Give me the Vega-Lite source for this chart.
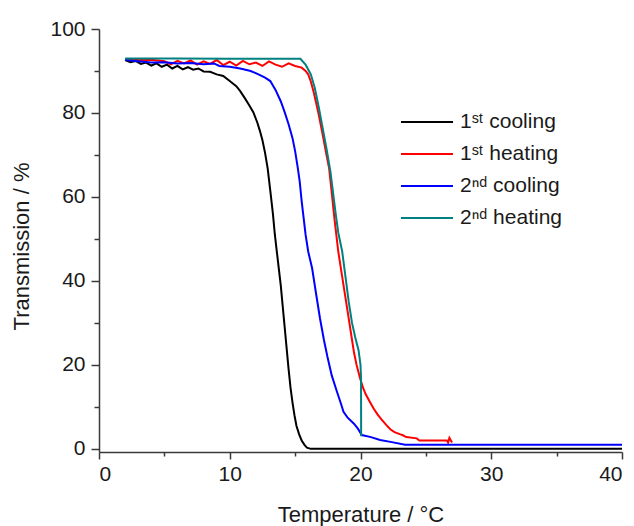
{
  "$schema": "https://vega.github.io/schema/vega-lite/v6.json",
  "width": 523,
  "height": 423,
  "autosize": {"type": "none"},
  "padding": {"left": 99, "top": 29, "right": 12, "bottom": 74},
  "background": "white",
  "config": {
    "view": {"stroke": null},
    "font": "Liberation Sans",
    "axis": {
      "grid": false,
      "domainColor": "#3a3a3a",
      "domainWidth": 1.5,
      "tickColor": "#3a3a3a",
      "tickWidth": 1.5,
      "labelFont": "Liberation Sans",
      "labelFontSize": 21,
      "labelColor": "#1a1a1a",
      "titleFont": "Liberation Sans",
      "titleFontWeight": "normal",
      "titleColor": "#1a1a1a",
      "titleFontSize": 22
    },
    "legend": {
      "labelFont": "Liberation Sans",
      "labelFontSize": 21,
      "labelColor": "#1a1a1a"
    }
  },
  "data": {
    "values": [
      {"series": "1ˢᵗ cooling", "t": 2.0, "tr": 92.6},
      {"series": "1ˢᵗ cooling", "t": 2.4, "tr": 92.1},
      {"series": "1ˢᵗ cooling", "t": 2.8, "tr": 92.4},
      {"series": "1ˢᵗ cooling", "t": 3.2, "tr": 91.7},
      {"series": "1ˢᵗ cooling", "t": 3.6, "tr": 92.0},
      {"series": "1ˢᵗ cooling", "t": 4.0, "tr": 91.3},
      {"series": "1ˢᵗ cooling", "t": 4.4, "tr": 91.8},
      {"series": "1ˢᵗ cooling", "t": 4.8, "tr": 91.0},
      {"series": "1ˢᵗ cooling", "t": 5.2, "tr": 91.5},
      {"series": "1ˢᵗ cooling", "t": 5.6, "tr": 90.6},
      {"series": "1ˢᵗ cooling", "t": 6.0, "tr": 91.2},
      {"series": "1ˢᵗ cooling", "t": 6.4, "tr": 90.4},
      {"series": "1ˢᵗ cooling", "t": 6.8, "tr": 90.9},
      {"series": "1ˢᵗ cooling", "t": 7.2, "tr": 90.3},
      {"series": "1ˢᵗ cooling", "t": 7.6, "tr": 90.6},
      {"series": "1ˢᵗ cooling", "t": 8.0, "tr": 89.9},
      {"series": "1ˢᵗ cooling", "t": 8.5, "tr": 89.8},
      {"series": "1ˢᵗ cooling", "t": 9.0, "tr": 89.2},
      {"series": "1ˢᵗ cooling", "t": 9.5, "tr": 88.8},
      {"series": "1ˢᵗ cooling", "t": 10.0, "tr": 87.6},
      {"series": "1ˢᵗ cooling", "t": 10.5, "tr": 86.4},
      {"series": "1ˢᵗ cooling", "t": 10.8, "tr": 85.2},
      {"series": "1ˢᵗ cooling", "t": 11.2, "tr": 83.3},
      {"series": "1ˢᵗ cooling", "t": 11.5, "tr": 81.8},
      {"series": "1ˢᵗ cooling", "t": 11.8, "tr": 80.2},
      {"series": "1ˢᵗ cooling", "t": 12.1, "tr": 77.8},
      {"series": "1ˢᵗ cooling", "t": 12.3, "tr": 75.8},
      {"series": "1ˢᵗ cooling", "t": 12.5, "tr": 73.5},
      {"series": "1ˢᵗ cooling", "t": 12.7, "tr": 70.5},
      {"series": "1ˢᵗ cooling", "t": 12.9, "tr": 66.8},
      {"series": "1ˢᵗ cooling", "t": 13.1, "tr": 61.5},
      {"series": "1ˢᵗ cooling", "t": 13.3, "tr": 56.0},
      {"series": "1ˢᵗ cooling", "t": 13.45, "tr": 51.0},
      {"series": "1ˢᵗ cooling", "t": 13.6, "tr": 47.0},
      {"series": "1ˢᵗ cooling", "t": 13.75, "tr": 43.0},
      {"series": "1ˢᵗ cooling", "t": 13.9, "tr": 39.0},
      {"series": "1ˢᵗ cooling", "t": 14.05, "tr": 34.0},
      {"series": "1ˢᵗ cooling", "t": 14.2, "tr": 29.0},
      {"series": "1ˢᵗ cooling", "t": 14.35, "tr": 24.0},
      {"series": "1ˢᵗ cooling", "t": 14.5, "tr": 19.0},
      {"series": "1ˢᵗ cooling", "t": 14.65, "tr": 14.5},
      {"series": "1ˢᵗ cooling", "t": 14.8, "tr": 11.0},
      {"series": "1ˢᵗ cooling", "t": 14.95, "tr": 8.0},
      {"series": "1ˢᵗ cooling", "t": 15.1, "tr": 5.5},
      {"series": "1ˢᵗ cooling", "t": 15.3, "tr": 3.5},
      {"series": "1ˢᵗ cooling", "t": 15.5, "tr": 2.0},
      {"series": "1ˢᵗ cooling", "t": 15.7, "tr": 1.0},
      {"series": "1ˢᵗ cooling", "t": 15.9, "tr": 0.3},
      {"series": "1ˢᵗ cooling", "t": 16.2, "tr": 0.0},
      {"series": "1ˢᵗ cooling", "t": 40.0, "tr": 0.0},

      {"series": "1ˢᵗ heating", "t": 2.0, "tr": 92.8},
      {"series": "1ˢᵗ heating", "t": 3.0, "tr": 92.6},
      {"series": "1ˢᵗ heating", "t": 4.0, "tr": 92.7},
      {"series": "1ˢᵗ heating", "t": 5.0, "tr": 92.3},
      {"series": "1ˢᵗ heating", "t": 5.5, "tr": 91.6},
      {"series": "1ˢᵗ heating", "t": 6.0, "tr": 92.4},
      {"series": "1ˢᵗ heating", "t": 6.5, "tr": 91.8},
      {"series": "1ˢᵗ heating", "t": 7.0, "tr": 92.5},
      {"series": "1ˢᵗ heating", "t": 7.5, "tr": 91.5},
      {"series": "1ˢᵗ heating", "t": 8.0, "tr": 92.3},
      {"series": "1ˢᵗ heating", "t": 8.5, "tr": 91.7},
      {"series": "1ˢᵗ heating", "t": 9.0, "tr": 92.6},
      {"series": "1ˢᵗ heating", "t": 9.5, "tr": 91.4},
      {"series": "1ˢᵗ heating", "t": 10.0, "tr": 92.2},
      {"series": "1ˢᵗ heating", "t": 10.5, "tr": 91.3},
      {"series": "1ˢᵗ heating", "t": 11.0, "tr": 92.4},
      {"series": "1ˢᵗ heating", "t": 11.5, "tr": 91.6},
      {"series": "1ˢᵗ heating", "t": 12.0, "tr": 92.0},
      {"series": "1ˢᵗ heating", "t": 12.5, "tr": 91.2},
      {"series": "1ˢᵗ heating", "t": 13.0, "tr": 92.3},
      {"series": "1ˢᵗ heating", "t": 13.5, "tr": 91.5},
      {"series": "1ˢᵗ heating", "t": 14.0, "tr": 91.0},
      {"series": "1ˢᵗ heating", "t": 14.5, "tr": 91.8},
      {"series": "1ˢᵗ heating", "t": 15.0, "tr": 91.2},
      {"series": "1ˢᵗ heating", "t": 15.5, "tr": 90.8},
      {"series": "1ˢᵗ heating", "t": 15.8, "tr": 90.0},
      {"series": "1ˢᵗ heating", "t": 16.0, "tr": 89.2},
      {"series": "1ˢᵗ heating", "t": 16.2, "tr": 87.5},
      {"series": "1ˢᵗ heating", "t": 16.4, "tr": 85.2},
      {"series": "1ˢᵗ heating", "t": 16.6, "tr": 82.5},
      {"series": "1ˢᵗ heating", "t": 16.8, "tr": 79.7},
      {"series": "1ˢᵗ heating", "t": 17.0, "tr": 76.5},
      {"series": "1ˢᵗ heating", "t": 17.2, "tr": 73.3},
      {"series": "1ˢᵗ heating", "t": 17.4, "tr": 70.0},
      {"series": "1ˢᵗ heating", "t": 17.6, "tr": 66.8},
      {"series": "1ˢᵗ heating", "t": 17.8, "tr": 61.0},
      {"series": "1ˢᵗ heating", "t": 18.0, "tr": 55.0},
      {"series": "1ˢᵗ heating", "t": 18.15, "tr": 51.0},
      {"series": "1ˢᵗ heating", "t": 18.3, "tr": 47.0},
      {"series": "1ˢᵗ heating", "t": 18.5, "tr": 43.0},
      {"series": "1ˢᵗ heating", "t": 18.7, "tr": 39.0},
      {"series": "1ˢᵗ heating", "t": 18.9, "tr": 35.0},
      {"series": "1ˢᵗ heating", "t": 19.1, "tr": 31.0},
      {"series": "1ˢᵗ heating", "t": 19.3, "tr": 27.0},
      {"series": "1ˢᵗ heating", "t": 19.5, "tr": 23.0},
      {"series": "1ˢᵗ heating", "t": 19.7, "tr": 20.0},
      {"series": "1ˢᵗ heating", "t": 19.95, "tr": 17.0},
      {"series": "1ˢᵗ heating", "t": 20.2, "tr": 14.5},
      {"series": "1ˢᵗ heating", "t": 20.4, "tr": 13.0},
      {"series": "1ˢᵗ heating", "t": 20.7, "tr": 11.3},
      {"series": "1ˢᵗ heating", "t": 21.0, "tr": 9.6},
      {"series": "1ˢᵗ heating", "t": 21.3, "tr": 8.2},
      {"series": "1ˢᵗ heating", "t": 21.6, "tr": 7.0},
      {"series": "1ˢᵗ heating", "t": 22.0, "tr": 5.6},
      {"series": "1ˢᵗ heating", "t": 22.3, "tr": 4.6},
      {"series": "1ˢᵗ heating", "t": 22.6, "tr": 4.0},
      {"series": "1ˢᵗ heating", "t": 23.0, "tr": 3.5},
      {"series": "1ˢᵗ heating", "t": 23.2, "tr": 3.3},
      {"series": "1ˢᵗ heating", "t": 23.5, "tr": 2.8},
      {"series": "1ˢᵗ heating", "t": 24.3, "tr": 2.5},
      {"series": "1ˢᵗ heating", "t": 24.5, "tr": 2.0},
      {"series": "1ˢᵗ heating", "t": 26.6, "tr": 2.0},
      {"series": "1ˢᵗ heating", "t": 26.7, "tr": 1.5},
      {"series": "1ˢᵗ heating", "t": 26.8, "tr": 2.6},
      {"series": "1ˢᵗ heating", "t": 27.0, "tr": 1.5},

      {"series": "2ⁿᵈ cooling", "t": 2.0, "tr": 92.6},
      {"series": "2ⁿᵈ cooling", "t": 3.0, "tr": 92.3},
      {"series": "2ⁿᵈ cooling", "t": 4.0, "tr": 92.0},
      {"series": "2ⁿᵈ cooling", "t": 5.0, "tr": 92.1},
      {"series": "2ⁿᵈ cooling", "t": 6.0, "tr": 91.8},
      {"series": "2ⁿᵈ cooling", "t": 7.0, "tr": 91.9},
      {"series": "2ⁿᵈ cooling", "t": 8.0, "tr": 91.6},
      {"series": "2ⁿᵈ cooling", "t": 8.8, "tr": 91.8},
      {"series": "2ⁿᵈ cooling", "t": 9.2, "tr": 91.2},
      {"series": "2ⁿᵈ cooling", "t": 10.0, "tr": 91.0},
      {"series": "2ⁿᵈ cooling", "t": 10.8, "tr": 90.6},
      {"series": "2ⁿᵈ cooling", "t": 11.6, "tr": 90.0},
      {"series": "2ⁿᵈ cooling", "t": 12.2, "tr": 89.2},
      {"series": "2ⁿᵈ cooling", "t": 12.7, "tr": 88.4},
      {"series": "2ⁿᵈ cooling", "t": 13.1, "tr": 87.6},
      {"series": "2ⁿᵈ cooling", "t": 13.5, "tr": 85.5},
      {"series": "2ⁿᵈ cooling", "t": 13.9, "tr": 82.8},
      {"series": "2ⁿᵈ cooling", "t": 14.2, "tr": 80.2},
      {"series": "2ⁿᵈ cooling", "t": 14.5, "tr": 77.3},
      {"series": "2ⁿᵈ cooling", "t": 14.8, "tr": 74.0},
      {"series": "2ⁿᵈ cooling", "t": 15.0, "tr": 70.9},
      {"series": "2ⁿᵈ cooling", "t": 15.2, "tr": 67.0},
      {"series": "2ⁿᵈ cooling", "t": 15.35, "tr": 63.7},
      {"series": "2ⁿᵈ cooling", "t": 15.5, "tr": 59.0},
      {"series": "2ⁿᵈ cooling", "t": 15.65, "tr": 55.0},
      {"series": "2ⁿᵈ cooling", "t": 15.8, "tr": 51.0},
      {"series": "2ⁿᵈ cooling", "t": 16.0, "tr": 47.0},
      {"series": "2ⁿᵈ cooling", "t": 16.3, "tr": 43.0},
      {"series": "2ⁿᵈ cooling", "t": 16.6, "tr": 37.0},
      {"series": "2ⁿᵈ cooling", "t": 16.9, "tr": 31.1},
      {"series": "2ⁿᵈ cooling", "t": 17.2, "tr": 26.0},
      {"series": "2ⁿᵈ cooling", "t": 17.5, "tr": 21.5},
      {"series": "2ⁿᵈ cooling", "t": 17.8, "tr": 17.5},
      {"series": "2ⁿᵈ cooling", "t": 18.2, "tr": 13.6},
      {"series": "2ⁿᵈ cooling", "t": 18.5, "tr": 10.8},
      {"series": "2ⁿᵈ cooling", "t": 18.7, "tr": 8.8},
      {"series": "2ⁿᵈ cooling", "t": 19.0, "tr": 7.5},
      {"series": "2ⁿᵈ cooling", "t": 19.5, "tr": 6.0},
      {"series": "2ⁿᵈ cooling", "t": 19.8, "tr": 4.8},
      {"series": "2ⁿᵈ cooling", "t": 20.1, "tr": 3.3},
      {"series": "2ⁿᵈ cooling", "t": 20.8, "tr": 2.8},
      {"series": "2ⁿᵈ cooling", "t": 21.5, "tr": 2.1},
      {"series": "2ⁿᵈ cooling", "t": 22.4, "tr": 1.6},
      {"series": "2ⁿᵈ cooling", "t": 23.4, "tr": 1.0},
      {"series": "2ⁿᵈ cooling", "t": 40.0, "tr": 1.0},

      {"series": "2ⁿᵈ heating", "t": 2.0, "tr": 93.0},
      {"series": "2ⁿᵈ heating", "t": 6.0, "tr": 93.0},
      {"series": "2ⁿᵈ heating", "t": 10.0, "tr": 92.9},
      {"series": "2ⁿᵈ heating", "t": 15.4, "tr": 92.9},
      {"series": "2ⁿᵈ heating", "t": 15.8, "tr": 91.5},
      {"series": "2ⁿᵈ heating", "t": 16.2, "tr": 89.2},
      {"series": "2ⁿᵈ heating", "t": 16.5, "tr": 86.0},
      {"series": "2ⁿᵈ heating", "t": 16.8, "tr": 81.5},
      {"series": "2ⁿᵈ heating", "t": 17.1, "tr": 76.5},
      {"series": "2ⁿᵈ heating", "t": 17.4, "tr": 71.5},
      {"series": "2ⁿᵈ heating", "t": 17.7, "tr": 66.0},
      {"series": "2ⁿᵈ heating", "t": 17.9, "tr": 61.0},
      {"series": "2ⁿᵈ heating", "t": 18.1, "tr": 56.0},
      {"series": "2ⁿᵈ heating", "t": 18.3, "tr": 51.5},
      {"series": "2ⁿᵈ heating", "t": 18.6, "tr": 47.0},
      {"series": "2ⁿᵈ heating", "t": 18.85, "tr": 41.0},
      {"series": "2ⁿᵈ heating", "t": 19.1, "tr": 35.0},
      {"series": "2ⁿᵈ heating", "t": 19.35, "tr": 30.0},
      {"series": "2ⁿᵈ heating", "t": 19.6, "tr": 26.5},
      {"series": "2ⁿᵈ heating", "t": 19.85, "tr": 23.5},
      {"series": "2ⁿᵈ heating", "t": 20.0, "tr": 20.0},
      {"series": "2ⁿᵈ heating", "t": 20.04, "tr": 17.0},
      {"series": "2ⁿᵈ heating", "t": 20.05, "tr": 3.0}
    ]
  },
  "mark": {"type": "line", "strokeWidth": 2, "interpolate": "linear"},
  "encoding": {
    "x": {
      "field": "t",
      "type": "quantitative",
      "scale": {"domain": [0, 40], "nice": false, "zero": false},
      "axis": {
        "title": "Temperature / °C",
        "titlePadding": 20,
        "values": [0, 5, 10, 15, 20, 25, 30, 35, 40],
        "labelExpr": "datum.value % 10 === 0 ? datum.label : ''",
        "labelPadding": 4,
        "tickSize": {"condition": {"test": "datum.value % 10 === 0", "value": 7}, "value": 4}
      }
    },
    "y": {
      "field": "tr",
      "type": "quantitative",
      "scale": {"domain": [-0.75, 100], "nice": false, "zero": false},
      "axis": {
        "title": "Transmission / %",
        "titlePadding": 16,
        "titleY": 217,
        "values": [0, 10, 20, 30, 40, 50, 60, 70, 80, 90, 100],
        "labelExpr": "datum.value % 20 === 0 ? datum.label : ''",
        "labelPadding": 6,
        "tickSize": {"condition": {"test": "datum.value % 20 === 0", "value": 8}, "value": 5}
      }
    },
    "color": {
      "field": "series",
      "type": "nominal",
      "scale": {
        "domain": ["1ˢᵗ cooling", "1ˢᵗ heating", "2ⁿᵈ cooling", "2ⁿᵈ heating"],
        "range": ["#000000", "#ff0000", "#0000ff", "#008080"]
      },
      "legend": {
        "title": null,
        "orient": "none",
        "legendX": 307,
        "legendY": 72,
        "symbolType": "M-1.3,0H1.3",
        "symbolStrokeWidth": 2,
        "symbolSize": 1600,
        "labelOffset": 12,
        "rowPadding": 1
      }
    }
  }
}
